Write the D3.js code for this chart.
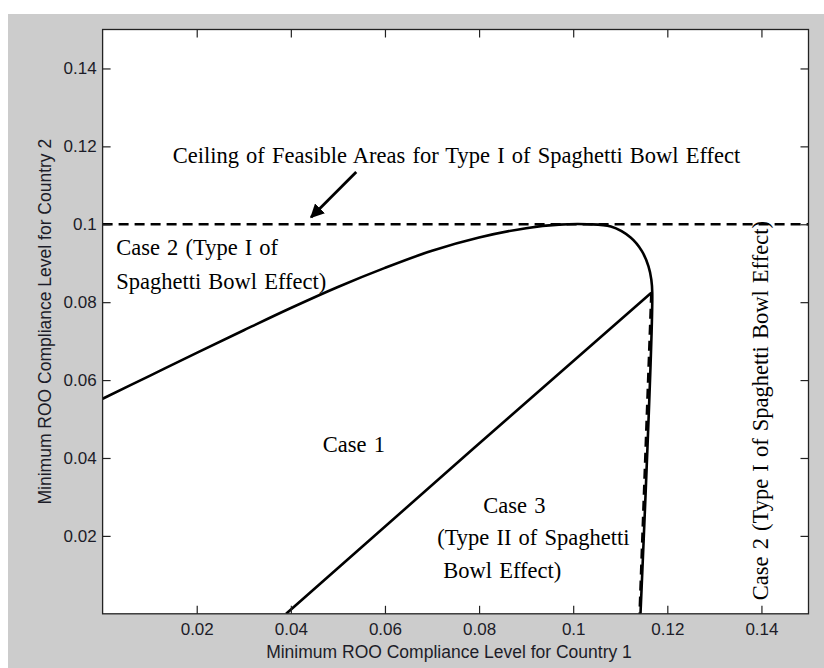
<!DOCTYPE html>
<html>
<head>
<meta charset="utf-8">
<script src="https://cdn.jsdelivr.net/npm/d3@7"></script>
<style>
  body { margin: 0; background: #fff; }
  .tick text { font-family: 'Liberation Sans', Arial, sans-serif; font-size: 17px; fill: #1c1c28; }
  .note { font-family: 'Liberation Serif', 'Times New Roman', serif; font-size: 22.5px; word-spacing: 1.5px; fill: #000; }
</style>
</head>
<body>
<svg id="chart"></svg>
<script>
// ---- data
var xTicks = [0.02, 0.04, 0.06, 0.08, 0.1, 0.12, 0.14]
var yTicks = [0.02, 0.04, 0.06, 0.08, 0.1, 0.12, 0.14]
var ceilingY = 0.1

// outer boundary of Case 2 (x, y)
var upperCurve = [
  [0, 0.0552], [0.01, 0.0611], [0.02, 0.0670], [0.03, 0.0728], [0.04, 0.0785],
  [0.05, 0.0839], [0.06, 0.0888], [0.07, 0.0932], [0.08, 0.0966],
  [0.09, 0.0990], [0.097, 0.0999], [0.103, 0.1000], [0.108, 0.0994], [0.1122, 0.0966],
  [0.1146, 0.0931], [0.1160, 0.0892], [0.1166, 0.0858], [0.1168, 0.0824],
  [0.1143, 0]
]
// Case 1 / Case 3 boundary
var diagonal = [[0.0390, 0], [0.0785, 0.0421], [0.1166, 0.0824]]
// dashed right boundary (Type I), lies almost on top of the solid one
var verticalDash = [[0.1168, 0.0824], [0.1143, 0]]

var arrowFrom = [0.0539, 0.1134]
var arrowTo = [0.0443, 0.1018]

var notes = [
  { text: 'Ceiling of Feasible Areas for Type I of Spaghetti Bowl Effect', x: 0.0149, y: 0.1158 },
  { text: 'Case 2 (Type I of', x: 0.0029, y: 0.0922 },
  { text: 'Spaghetti Bowl Effect)', x: 0.0029, y: 0.0833 },
  { text: 'Case 1', x: 0.0468, y: 0.0416 },
  { text: 'Case 3', x: 0.0809, y: 0.0260 },
  { text: '(Type II of Spaghetti', x: 0.0711, y: 0.0176 },
  { text: 'Bowl Effect)', x: 0.0724, y: 0.0091 }
]
var sideNote = { text: 'Case 2 (Type I of Spaghetti Bowl Effect)', x: 0.1413, y: 0.0035 }

var xLabel = 'Minimum ROO Compliance Level for Country 1'
var yLabel = 'Minimum ROO Compliance Level for Country 2'

// ---- layout
var width = 824
var height = 668
var margin = { top: 29.5, right: 15.5, bottom: 54.2, left: 102.6 }

var x = d3.scaleLinear().domain([0, 0.15]).range([margin.left, width - margin.right])
var y = d3.scaleLinear().domain([0, 0.15]).range([height - margin.bottom, margin.top])

var svg = d3.select('#chart').attr('width', width).attr('height', height)

svg.append('rect')
  .attr('x', 8).attr('y', 14)
  .attr('width', width - 8).attr('height', height - 14)
  .attr('fill', '#cccccc')

svg.append('rect')
  .attr('x', x(0)).attr('y', y(0.15))
  .attr('width', x(0.15) - x(0)).attr('height', y(0) - y(0.15))
  .attr('fill', '#fff')

svg.append('clipPath').attr('id', 'clip')
  .append('rect')
  .attr('x', x(0)).attr('y', y(0.15))
  .attr('width', x(0.15) - x(0)).attr('height', y(0) - y(0.15))

var plot = svg.append('g').attr('clip-path', 'url(#clip)')

var line = d3.line()
  .x(d => x(d[0]))
  .y(d => y(d[1]))

plot.append('path')
  .datum(upperCurve)
  .attr('fill', 'none')
  .attr('stroke', '#000')
  .attr('stroke-width', 2.6)
  .attr('d', line.curve(d3.curveCatmullRom.alpha(0.5)))

plot.append('path')
  .datum(diagonal)
  .attr('fill', 'none')
  .attr('stroke', '#000')
  .attr('stroke-width', 2.6)
  .attr('d', line.curve(d3.curveLinear))

plot.append('path')
  .datum(verticalDash)
  .attr('fill', 'none')
  .attr('stroke', '#000')
  .attr('stroke-width', 2.6)
  .attr('stroke-dasharray', '10,6')
  .attr('transform', 'translate(-0.9,0)')
  .attr('d', line.curve(d3.curveLinear))

plot.append('line')
  .attr('x1', x(0)).attr('x2', x(0.15))
  .attr('y1', y(ceilingY)).attr('y2', y(ceilingY))
  .attr('stroke', '#000')
  .attr('stroke-width', 2.6)
  .attr('stroke-dasharray', '10,6')

// axes, ticks inward on all four sides
svg.append('g')
  .attr('transform', `translate(0,${y(0)})`)
  .call(d3.axisBottom(x).tickValues(xTicks).tickFormat(d3.format('')).tickSize(-8).tickPadding(9))
  .call(g => g.select('.domain').remove())

svg.append('g')
  .attr('transform', `translate(${x(0)},0)`)
  .call(d3.axisLeft(y).tickValues(yTicks).tickFormat(d3.format('')).tickSize(-8).tickPadding(6))
  .call(g => g.select('.domain').remove())

svg.append('g')
  .attr('transform', `translate(0,${y(0.15)})`)
  .call(d3.axisTop(x).tickValues(xTicks).tickFormat('').tickSize(-8))
  .call(g => g.select('.domain').remove())

svg.append('g')
  .attr('transform', `translate(${x(0.15)},0)`)
  .call(d3.axisRight(y).tickValues(yTicks).tickFormat('').tickSize(-8))
  .call(g => g.select('.domain').remove())

svg.selectAll('.tick line').attr('stroke', '#222').attr('stroke-width', 1.2)

svg.append('rect')
  .attr('x', x(0)).attr('y', y(0.15))
  .attr('width', x(0.15) - x(0)).attr('height', y(0) - y(0.15))
  .attr('fill', 'none')
  .attr('stroke', '#222')
  .attr('stroke-width', 1.3)

// axis labels
svg.append('text')
  .attr('x', 449)
  .attr('y', 658)
  .attr('text-anchor', 'middle')
  .attr('font-family', "'Liberation Sans', Arial, sans-serif")
  .attr('font-size', 17.5)
  .attr('fill', '#1c1c28')
  .text(xLabel)

svg.append('text')
  .attr('transform', `translate(51,${(y(0) + y(0.15)) / 2}) rotate(-90)`)
  .attr('text-anchor', 'middle')
  .attr('font-family', "'Liberation Sans', Arial, sans-serif")
  .attr('font-size', 17.5)
  .attr('fill', '#1c1c28')
  .text(yLabel)

// arrow
svg.append('defs').append('marker')
  .attr('id', 'head')
  .attr('viewBox', '0 0 10 10')
  .attr('refX', 9).attr('refY', 5)
  .attr('markerWidth', 5).attr('markerHeight', 5)
  .attr('markerUnits', 'strokeWidth')
  .attr('orient', 'auto')
  .append('path')
  .attr('d', 'M0,0 L10,5 L0,10 Z')
  .attr('fill', '#000')

svg.append('line')
  .attr('x1', x(arrowFrom[0])).attr('y1', y(arrowFrom[1]))
  .attr('x2', x(arrowTo[0])).attr('y2', y(arrowTo[1]))
  .attr('stroke', '#000')
  .attr('stroke-width', 2.8)
  .attr('marker-end', 'url(#head)')

// annotations
svg.selectAll('.note')
  .data(notes)
  .enter()
  .append('text')
  .attr('class', 'note')
  .attr('x', d => x(d.x))
  .attr('y', d => y(d.y))
  .text(d => d.text)

svg.append('text')
  .attr('class', 'note')
  .attr('transform', `translate(${x(sideNote.x)},${y(sideNote.y)}) rotate(-90)`)
  .text(sideNote.text)
</script>
</body>
</html>
